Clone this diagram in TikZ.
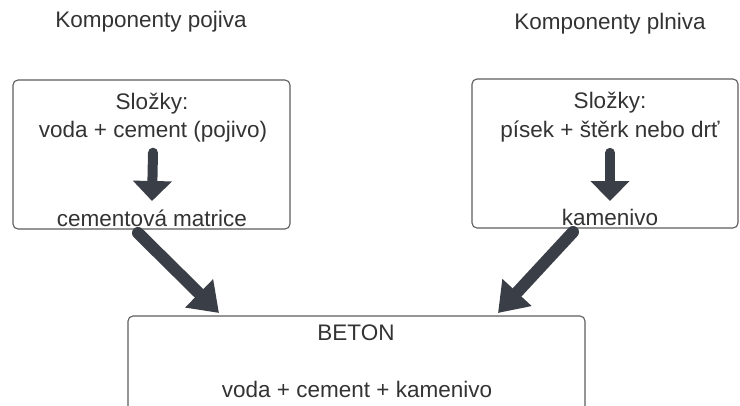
\documentclass[tikz,border=0pt]{standalone}
\usepackage{fontspec}
\setmainfont{Liberation Sans}
\usetikzlibrary{arrows.meta}
\definecolor{arrowgray}{HTML}{3A3F47}
\definecolor{textgray}{HTML}{333333}
\definecolor{framegray}{HTML}{5C5C5C}
\tikzset{
  box/.style={draw=framegray,line width=1.1pt,rounded corners=5pt,inner sep=0pt},
  txt/.style={text=textgray,font=\fontsize{22.5}{26}\selectfont,inner sep=1pt},
  fat/.style={arrowgray,line width=10pt,line cap=round,-{Triangle[length=20pt,width=38pt]}},
  fatter/.style={arrowgray,line width=12pt,line cap=round,-{Triangle[length=28pt,width=38pt]}}
}
\begin{document}
\begin{tikzpicture}[x=1pt,y=-1pt]
        \path[use as bounding box,clip] (0,0) rectangle (740,405);

        \node[txt] (titleL) at (151,22) {Komponenty pojiva};
        \node[txt] (titleR) at (610,24) {Komponenty plniva};

        \node[box,minimum width=277pt,minimum height=149pt] (boxL) at (151.5,154.5) {};
        \node[box,minimum width=266pt,minimum height=149pt] (boxR) at (605,153.5) {};
        \node[box,minimum width=457pt,minimum height=140pt] (beton) at (356.5,386) {};

        \node[txt] (slozL) at (152,104) {Složky:};
        \node[txt] (inL) at (153,132) {voda + cement (pojivo)};
        \node[txt] (outL) at (152,218) {cementová matrice};

        \node[txt] (slozR) at (610,103) {Složky:};
        \node[txt] (inR) at (610,132) {písek + štěrk nebo drť};
        \node[txt] (outR) at (610,217) {kamenivo};

        \node[txt] (betonT) at (356,333) {BETON};
        \node[txt] (betonS) at (357,389) {voda + cement + kamenivo};

        \coordinate (fromL) at (138,233);
        \coordinate (toL) at (219,313);
        \coordinate (fromR) at (573,232);
        \coordinate (toR) at (498,313);

        \draw [fat] (inL.south) ++(0,9) coordinate (a) (a) -- (outL.north |- 0,201);
        \draw [fat] (inR.south) ++(0,9) coordinate (b) (b) -- (outR.north |- 0,201);

        \draw [fatter] (fromL) -- (toL);
        \draw [fatter] (fromR) -- (toR);
      \end{tikzpicture}
\end{document}
